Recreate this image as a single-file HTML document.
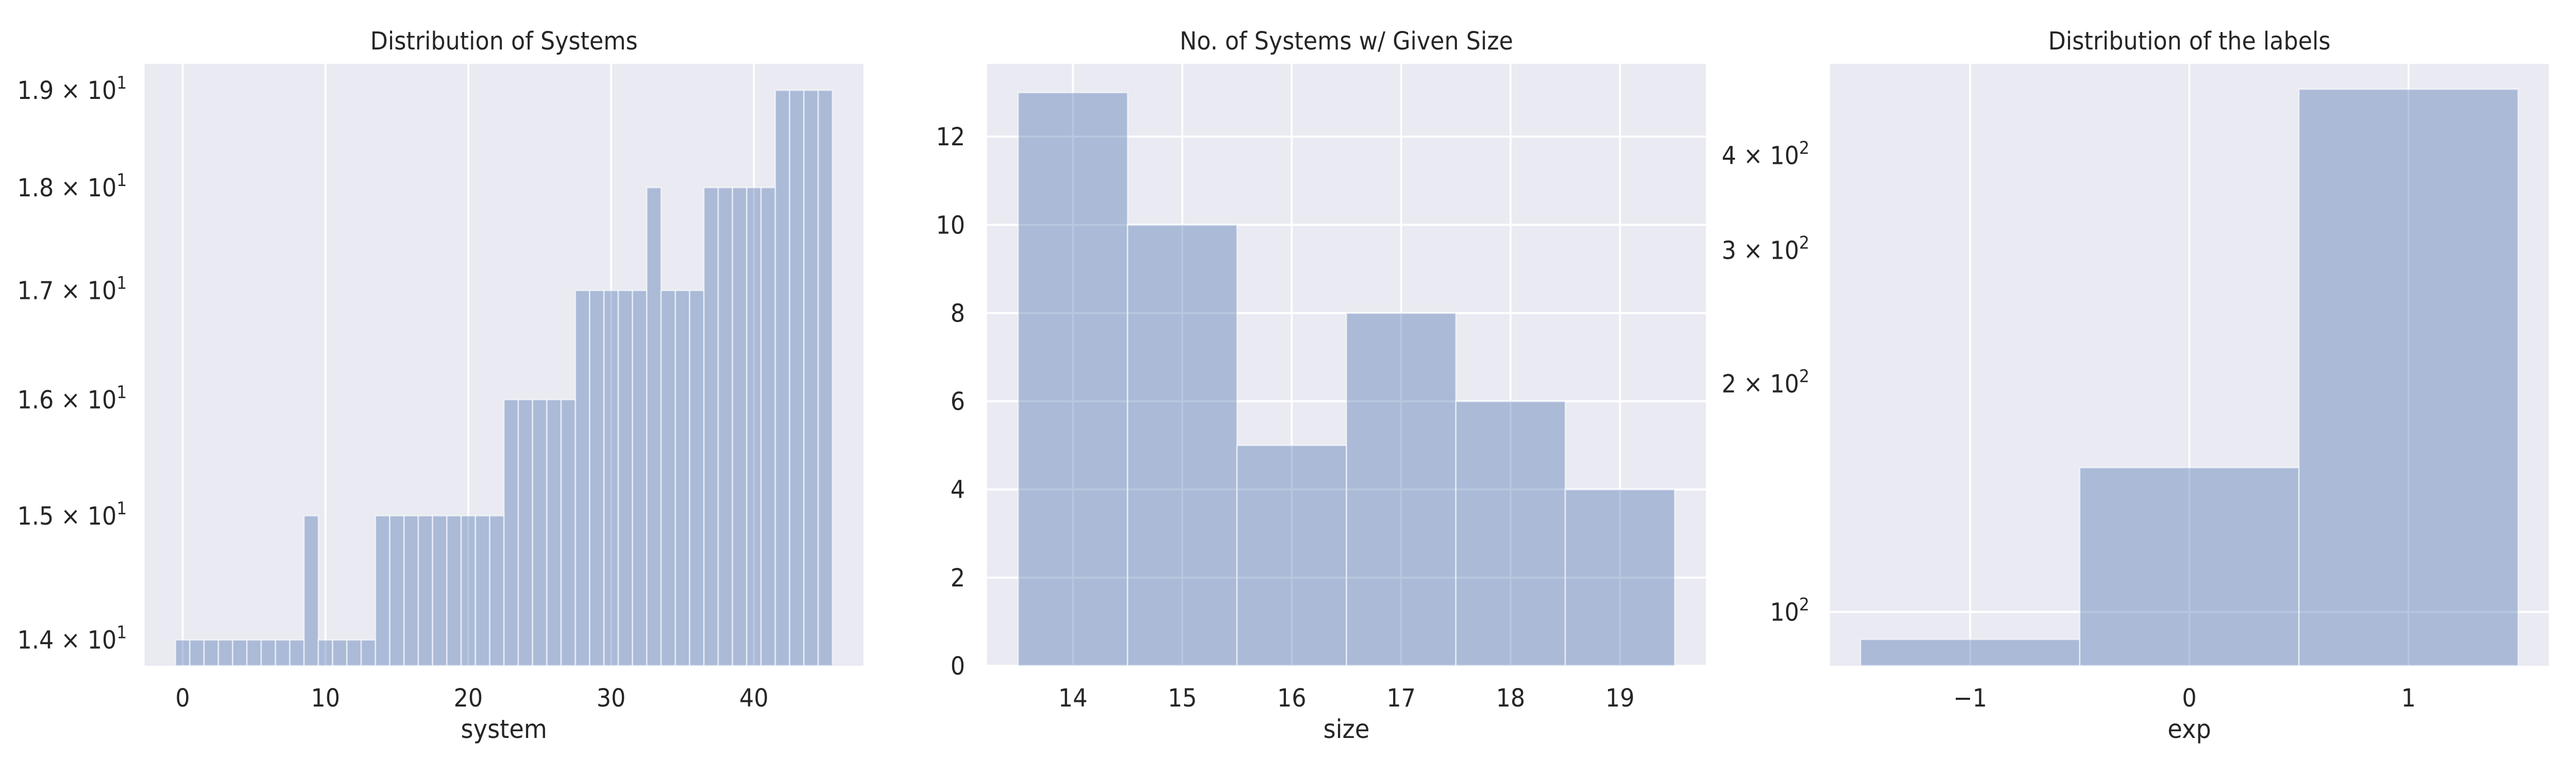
<!DOCTYPE html>
<html><head><meta charset="utf-8"><style>
html,body{margin:0;padding:0;background:#fff;width:100%;height:100%;overflow:hidden;}
svg{display:block;position:absolute;left:0;top:0;width:100vw;height:100vh;font-family:"DejaVu Sans","Liberation Sans",sans-serif;}
</style></head><body>
<svg id="fig" viewBox="0 0 5400 1500" preserveAspectRatio="none" xmlns="http://www.w3.org/2000/svg"></svg>
<script>
// Panel 1: Distribution of Systems (bar per system, log y)
const systemIds = [0,1,2,3,4,5,6,7,8,9,10,11,12,13,14,15,16,17,18,19,20,21,22,23,24,25,26,27,28,29,30,31,32,33,34,35,36,37,38,39,40,41,42,43,44,45];
const systemSizes = [14,14,14,14,14,14,14,14,14,15,14,14,14,14,15,15,15,15,15,15,15,15,15,16,16,16,16,16,17,17,17,17,17,18,17,17,17,18,18,18,18,18,19,19,19,19];
const p1XTicks = [0,10,20,30,40];
const p1YTicks = [14,15,16,17,18,19];
const p1YTickLabels = ["1.4","1.5","1.6","1.7","1.8","1.9"];
// Panel 2: No. of Systems w/ Given Size
const sizeBins = [14,15,16,17,18,19];
const sizeCounts = [13,10,5,8,6,4];
const p2YTicks = [0,2,4,6,8,10,12];
// Panel 3: Distribution of the labels (log y)
const expBins = [-1,0,1];
const expCounts = [92,155,489];
const p3YTicks = [100,200,300,400];
const p3YTickLabels = ["","2","3","4"];

const NS = "http://www.w3.org/2000/svg";
const svg = document.getElementById('fig');
function el(tag, attrs, parent){const e=document.createElementNS(NS,tag);for(const k in attrs)e.setAttribute(k,attrs[k]);(parent||svg).appendChild(e);return e;}
const TXT="#262626", BG="#eaeaf2";
const TOP=124, BOT=1292;

function linY(v,min,max){return BOT-(v-min)/(max-min)*(BOT-TOP);}
function logY(v,min,max){return BOT-(Math.log10(v)-Math.log10(min))/(Math.log10(max)-Math.log10(min))*(BOT-TOP);}

function panel(cfg){
  const g=el('g',{});
  
  
  const sx=v=>cfg.x0+(v-cfg.xmin)/(cfg.xmax-cfg.xmin)*(cfg.x1-cfg.x0);
  const bg=el('rect',{x:cfg.x0,y:TOP,width:cfg.x1-cfg.x0,height:BOT-TOP,fill:BG},g);
  
  
  cfg.xticks.forEach(t=>{
    const l=el('line',{x1:sx(t),x2:sx(t),y1:TOP,y2:BOT,stroke:'#fff','stroke-width':4},g);
    
    
    const tx=el('text',{x:sx(t),y:1371,'font-size':48,fill:TXT,'text-anchor':'middle'},g);
    tx.textContent=(t<0?'\u2212'+(-t):String(t));
    
    
  });
  cfg.hgrid.forEach(v=>{
    const y=cfg.sy(v);
    const l=el('line',{x1:cfg.x0,x2:cfg.x1,y1:y,y2:y,stroke:'#fff','stroke-width':4},g);
    
    
  });
  cfg.yticks.forEach((v,i)=>{
    const y=cfg.sy(v);
    const tx=el('text',{x:cfg.ylabX,y:y+17,'font-size':48,fill:TXT,'text-anchor':'end'},g);
    
    
    if(cfg.sup){
      const mant=cfg.ylabels[i];
      const s1=document.createElementNS(NS,'tspan');
      s1.textContent=(mant?mant+' \u00d7 10':'10');tx.appendChild(s1);
      const s2=document.createElementNS(NS,'tspan');
      s2.setAttribute('font-size','34');s2.setAttribute('dy','-20');
      s2.textContent=cfg.sup;tx.appendChild(s2);
    } else tx.textContent=String(v);
  });
  cfg.cats.forEach((c,i)=>{
    const v=cfg.vals[i];
    const xa=sx(c-cfg.bw/2), xb=sx(c+cfg.bw/2), y=cfg.sy(v);
    const r=el('rect',{x:xa,y:y,width:xb-xa,height:BOT-y,fill:'#4c72b0','fill-opacity':0.4,stroke:'#ffffff','stroke-opacity':0.55,'stroke-width':3},g);
    
    
  });
  const t=el('text',{x:(cfg.x0+cfg.x1)/2,y:96,'font-size':48,fill:TXT,'text-anchor':'middle'},g);
  t.textContent=cfg.title;
  
  
  const xl=el('text',{x:(cfg.x0+cfg.x1)/2,y:1432,'font-size':50,fill:TXT,'text-anchor':'middle'},g);
  xl.textContent=cfg.xlabel;
  
  
}

const p1min=13.80,p1max=19.28;
panel({name:'systems-distribution-panel',x0:303,x1:1810,xmin:-2.67,xmax:47.67,xticks:p1XTicks,
  sy:v=>logY(v,p1min,p1max),hgrid:[],yticks:p1YTicks,ylabels:p1YTickLabels,sup:'1',ylabX:266,
  cats:systemIds,vals:systemSizes,bw:1,title:'Distribution of Systems',xlabel:'system'});

panel({name:'size-histogram-panel',x0:2069,x1:3576,xmin:13.215,xmax:19.785,xticks:sizeBins,
  sy:v=>linY(v,0,13.65),hgrid:p2YTicks,yticks:p2YTicks,ylabX:2023,
  cats:sizeBins,vals:sizeCounts,bw:1,title:'No. of Systems w/ Given Size',xlabel:'size'});

const p3min=84.9,p3max=528;
panel({name:'labels-distribution-panel',x0:3836,x1:5343,xmin:-1.64,xmax:1.64,xticks:expBins,
  sy:v=>logY(v,p3min,p3max),hgrid:[100],yticks:p3YTicks,ylabels:p3YTickLabels,sup:'2',ylabX:3793,
  cats:expBins,vals:expCounts,bw:1,title:'Distribution of the labels',xlabel:'exp'});
</script>
</body></html>
